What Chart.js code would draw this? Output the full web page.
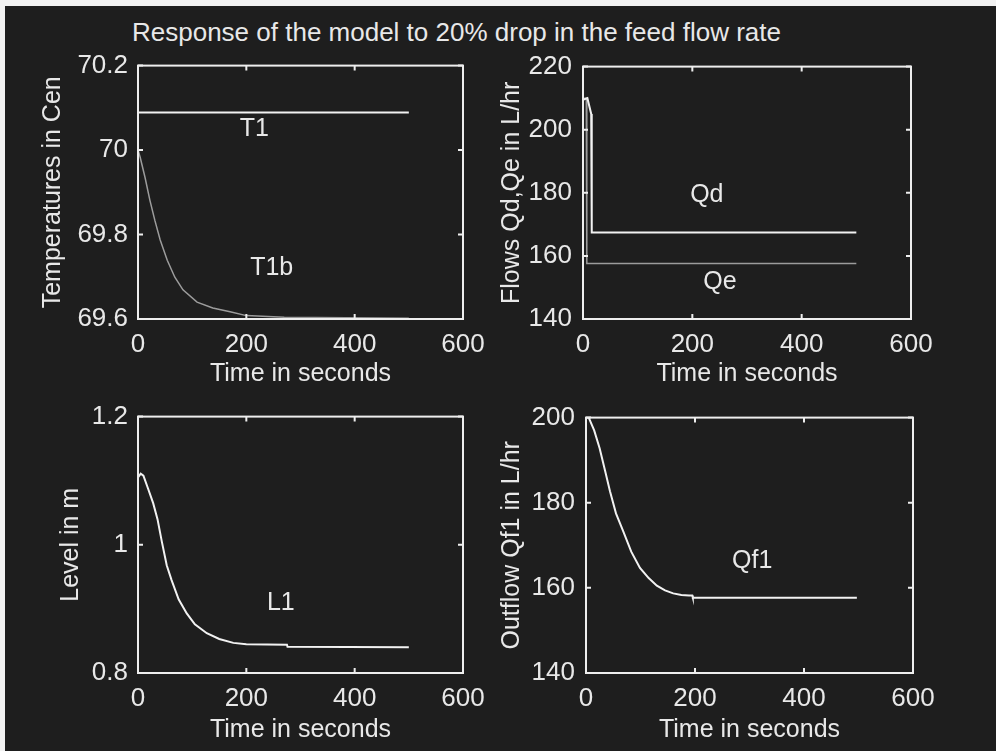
<!DOCTYPE html>
<html>
<head>
<meta charset="utf-8">
<script src="https://cdn.jsdelivr.net/npm/chart.js@4.4.0/dist/chart.umd.min.js"></script>
<style>
  html, body { margin: 0; padding: 0; background: #f2f2f2; width: 996px; height: 751px; overflow: hidden; }
  #frame { position: absolute; left: 5px; top: 6px; width: 991px; height: 745px; background: #1e1e1e; }
  canvas { position: absolute; }
  #title { position: absolute; left: 132px; top: 17px; font: 26px "Liberation Sans", Arial, sans-serif; color: #e8e8e8; white-space: nowrap; }
</style>
</head>
<body>
<div id="frame"></div>
<div id="title">Response of the model to 20% drop in the feed flow rate</div>
<canvas id="temps" style="left:20px;top:40px" width="475" height="349"></canvas>
<canvas id="flows" style="left:490px;top:40px" width="453" height="349"></canvas>
<canvas id="level" style="left:20px;top:391px" width="475" height="354"></canvas>
<canvas id="outflow" style="left:490px;top:391px" width="455" height="354"></canvas>
<script>
// tick values
const xTicks = [0, 200, 400, 600];
const tempTicks = [69.6, 69.8, 70, 70.2];
const flowTicks = [140, 160, 180, 200, 220];
const levelTicks = [0.8, 1, 1.2];
const outflowTicks = [140, 160, 180, 200];

// T1 / T1b (deg C)
const t1Time = [0, 500];
const t1Temp = [70.089, 70.089];
const t1bTime = [0, 4, 13, 22, 31, 41, 54, 68, 83, 109, 138, 170, 200, 270, 500];
const t1bTemp = [70.0, 69.983, 69.935, 69.881, 69.834, 69.787, 69.739, 69.699, 69.669, 69.64, 69.626, 69.617, 69.608, 69.604, 69.602];

// Qd / Qe (L/hr)
const qdTime = [0, 8, 15, 16, 500];
const qdFlow = [209.5, 210, 205, 167.4, 167.4];
const qeTime = [0, 6, 7, 500];
const qeFlow = [210, 210, 157.6, 157.6];

// L1 (m)
const l1Time = [0, 5, 10, 18, 28, 36, 44, 53, 62, 75, 90, 105, 127, 150, 176, 200, 275, 276, 500];
const l1Level = [1.105, 1.111, 1.108, 1.089, 1.065, 1.04, 1.005, 0.968, 0.945, 0.915, 0.893, 0.876, 0.862, 0.853, 0.847, 0.845, 0.844, 0.841, 0.84];

// Qf1 (L/hr)
const qf1Time = [0, 5, 15, 25, 35, 44, 55, 68, 83, 99, 115, 130, 145, 160, 175, 189, 195, 196, 497];
const qf1Flow = [200, 200, 197, 192.8, 187.5, 182.7, 177.5, 173.4, 168.5, 164.7, 162.3, 160.5, 159.4, 158.7, 158.3, 158.2, 158.2, 157.7, 157.7];

// text labels inside the plots
const tempLabelText = ['T1', 'T1b'];
const tempLabelX = [188, 207];
const tempLabelY = [70.05, 69.72];
const flowLabelText = ['Qd', 'Qe'];
const flowLabelX = [196, 220];
const flowLabelY = [179.4, 151.7];
const levelLabelText = ['L1'];
const levelLabelX = [238];
const levelLabelY = [0.909];
const outflowLabelText = ['Qf1'];
const outflowLabelX = [268];
const outflowLabelY = [166.4];

const TXT = '#e8e8e8';
const AXIS = '#eeeeee';
const WHITE = '#f2f2f2';
const GREY = '#9c9c9c';
const FAMILY = '"Liberation Sans", Arial, sans-serif';

function pts(xs, ys) {
    return xs.map((t, i) => ({ x: t, y: ys[i] }));
}

// box with inward ticks + text labels, matlab style
const boxPlugin = {
    id: 'matlabBox',
    afterDraw(chart, args, opts) {
        const { ctx, chartArea: a } = chart;
        const x = chart.scales.x, y = chart.scales.y;
        ctx.save();
        ctx.strokeStyle = AXIS;
        ctx.lineWidth = 2;
        ctx.strokeRect(a.left, a.top, a.right - a.left, a.bottom - a.top);
        ctx.beginPath();
        x.ticks.forEach(t => {
            const px = x.getPixelForValue(t.value);
            ctx.moveTo(px, a.bottom); ctx.lineTo(px, a.bottom - 5);
            ctx.moveTo(px, a.top); ctx.lineTo(px, a.top + 5);
        });
        y.ticks.forEach(t => {
            const py = y.getPixelForValue(t.value);
            ctx.moveTo(a.left, py); ctx.lineTo(a.left + 5, py);
            ctx.moveTo(a.right, py); ctx.lineTo(a.right - 5, py);
        });
        ctx.stroke();
        ctx.fillStyle = TXT;
        ctx.font = '25px ' + FAMILY;
        ctx.textAlign = 'left';
        ctx.textBaseline = 'middle';
        for (let i = 0; i < opts.text.length; i++) {
            ctx.fillText(opts.text[i], x.getPixelForValue(opts.x[i]), y.getPixelForValue(opts.y[i]));
        }
        ctx.restore();
    }
};

function makeChart(id, cfg) {
    return new Chart(document.getElementById(id), {
        type: 'scatter',
        data: {
            datasets: cfg.series.map(s => ({
                data: s.data,
                showLine: true,
                borderColor: s.color,
                borderWidth: s.width,
                pointRadius: 0,
                tension: 0
            }))
        },
        options: {
            responsive: false,
            animation: false,
            layout: { padding: { top: 25, right: cfg.right, left: 0, bottom: 0 } },
            plugins: {
                legend: { display: false },
                tooltip: { enabled: false },
                matlabBox: cfg.labels
            },
            scales: {
                x: {
                    type: 'linear', min: 0, max: 600,
                    grid: { display: false, drawTicks: false },
                    border: { display: false },
                    afterBuildTicks: s => { s.ticks = xTicks.map(v => ({ value: v })); },
                    afterFit: s => { s.height = cfg.xh; },
                    ticks: { color: TXT, font: { family: FAMILY, size: 26 }, padding: 10, maxRotation: 0 },
                    title: { display: true, text: 'Time in seconds', color: TXT,
                             font: { family: FAMILY, size: 25 }, padding: { top: 0, bottom: 0 } }
                },
                y: {
                    type: 'linear', min: cfg.yTicks[0], max: cfg.yTicks[cfg.yTicks.length - 1],
                    grid: { display: false, drawTicks: false },
                    border: { display: false },
                    afterBuildTicks: s => { s.ticks = cfg.yTicks.map(v => ({ value: v })); },
                    afterFit: s => { s.width = cfg.yw; },
                    ticks: { color: TXT, font: { family: FAMILY, size: 26 }, padding: cfg.ypad,
                             callback: v => String(Number(v.toFixed(2))) },
                    title: { display: true, text: cfg.yTitle, color: TXT,
                             font: { family: FAMILY, size: 25 }, padding: { top: cfg.ytp, bottom: 0 } }
                }
            }
        },
        plugins: [boxPlugin]
    });
}

makeChart('temps', {
    yTicks: tempTicks, yTitle: 'Temperatures in Cen', yw: 118, ytp: 18, ypad: 10, right: 32, xh: 70,
    series: [
        { data: pts(t1Time, t1Temp), color: WHITE, width: 2 },
        { data: pts(t1bTime, t1bTemp), color: GREY, width: 1.5 }
    ],
    labels: { text: tempLabelText, x: tempLabelX, y: tempLabelY }
});

makeChart('flows', {
    yTicks: flowTicks, yTitle: 'Flows Qd,Qe in L/hr', yw: 93, ytp: 7, ypad: 11, right: 32, xh: 70,
    series: [
        { data: pts(qdTime, qdFlow), color: WHITE, width: 2 },
        { data: pts(qeTime, qeFlow), color: GREY, width: 1.5 }
    ],
    labels: { text: flowLabelText, x: flowLabelX, y: flowLabelY }
});

makeChart('level', {
    yTicks: levelTicks, yTitle: 'Level in m', yw: 118, ytp: 36, ypad: 10, right: 32, xh: 72,
    series: [
        { data: pts(l1Time, l1Level), color: WHITE, width: 2 }
    ],
    labels: { text: levelLabelText, x: levelLabelX, y: levelLabelY }
});

makeChart('outflow', {
    yTicks: outflowTicks, yTitle: 'Outflow Qf1 in L/hr', yw: 96, ytp: 7, ypad: 11, right: 32, xh: 72,
    series: [
        { data: pts(qf1Time, qf1Flow), color: WHITE, width: 2 }
    ],
    labels: { text: outflowLabelText, x: outflowLabelX, y: outflowLabelY }
});
</script>
</body>
</html>
